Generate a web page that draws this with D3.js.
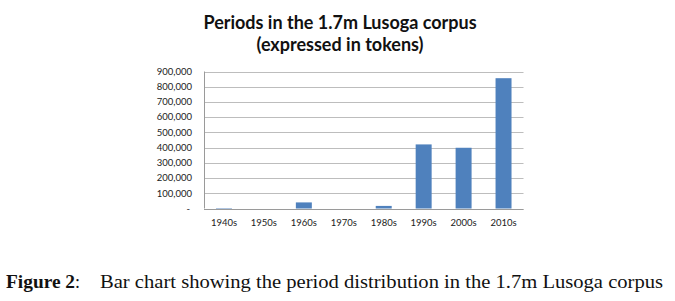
<!DOCTYPE html>
<html>
<head>
<meta charset="utf-8">
<script src="https://cdn.jsdelivr.net/npm/d3@7"></script>
<style>
  body { margin: 0; background: #fff; }
  svg { display: block; }
</style>
</head>
<body>
<div id="chart"></div>
<script>
const periods = ['1940s', '1950s', '1960s', '1970s', '1980s', '1990s', '2000s', '2010s']
const tokens = [3000, 0, 40000, 0, 17000, 421000, 399000, 856000]
const yTicks = [0, 100000, 200000, 300000, 400000, 500000, 600000, 700000, 800000, 900000]
const titleLines = ['Periods in the 1.7m Lusoga corpus', '(expressed in tokens)']

const width = 675
const height = 301
const plot = { left: 204, right: 523.5, top: 71.5, bottom: 208.5 }

const svg = d3.select('#chart')
  .append('svg')
  .attr('width', width)
  .attr('height', height)

const x = d3.scaleBand()
  .domain(periods)
  .range([plot.left, plot.right])
  .paddingInner(0.6)
  .paddingOuter(0.3)

const y = d3.scaleLinear()
  .domain([0, 900000])
  .range([plot.bottom, plot.top])

// gridlines
svg.append('g')
  .selectAll('line')
  .data(yTicks)
  .join('line')
  .attr('x1', plot.left)
  .attr('x2', plot.right)
  .attr('y1', d => Math.round(y(d)) + 0.5)
  .attr('y2', d => Math.round(y(d)) + 0.5)
  .attr('stroke', '#bdbdbd')
  .attr('stroke-width', 1)

// y axis labels
const fmt = d => d === 0 ? '-' : d3.format(',')(d)
svg.append('g')
  .selectAll('text')
  .data(yTicks)
  .join('text')
  .attr('x', d => d === 0 ? plot.left - 14 : plot.left - 12)
  .attr('y', d => y(d))
  .attr('dy', '0.35em')
  .attr('text-anchor', 'end')
  .attr('font-family', 'Lato, "Open Sans", sans-serif')
  .attr('font-size', 9.5)
  .attr('fill', '#222')
  .text(fmt)

// axis lines
svg.append('line')
  .attr('x1', plot.left + 0.5).attr('x2', plot.left + 0.5)
  .attr('y1', plot.top).attr('y2', plot.bottom)
  .attr('stroke', '#9a9a9a')
svg.append('line')
  .attr('x1', plot.left).attr('x2', plot.right)
  .attr('y1', Math.round(y(0)) + 0.5).attr('y2', Math.round(y(0)) + 0.5)
  .attr('stroke', '#9a9a9a')

// bars
svg.append('g')
  .selectAll('rect')
  .data(periods.map((p, i) => ({ period: p, value: tokens[i] })))
  .join('rect')
  .attr('x', d => x(d.period))
  .attr('width', x.bandwidth())
  .attr('y', d => y(d.value))
  .attr('height', d => y(0) - y(d.value))
  .attr('fill', '#4f81bd')

// x labels
svg.append('g')
  .selectAll('text')
  .data(periods)
  .join('text')
  .attr('x', d => x(d) + x.bandwidth() / 2)
  .attr('y', 226)
  .attr('text-anchor', 'middle')
  .attr('font-family', 'Lato, "Open Sans", sans-serif')
  .attr('font-size', 9.5)
  .attr('fill', '#222')
  .text(d => d)

// title
svg.append('g')
  .selectAll('text')
  .data(titleLines)
  .join('text')
  .attr('x', 340)
  .attr('y', (d, i) => 29 + i * 22)
  .attr('text-anchor', 'middle')
  .attr('font-family', 'Lato, "Open Sans", sans-serif')
  .attr('font-weight', 'bold')
  .attr('font-size', 18)
  .attr('fill', '#111')
  .text(d => d)

// caption
const caption = svg.append('text')
  .attr('y', 288)
  .attr('font-family', '"Liberation Serif", serif')
  .attr('font-size', 18)
  .attr('fill', '#111')
caption.append('tspan')
  .attr('x', 6)
  .attr('font-weight', 'bold')
  .attr('textLength', 69)
  .attr('lengthAdjust', 'spacingAndGlyphs')
  .text('Figure 2')
caption.append('tspan')
  .text(':')
caption.append('tspan')
  .attr('x', 100)
  .attr('textLength', 563)
  .attr('lengthAdjust', 'spacingAndGlyphs')
  .text('Bar chart showing the period distribution in the 1.7m Lusoga corpus')
</script>
</body>
</html>
